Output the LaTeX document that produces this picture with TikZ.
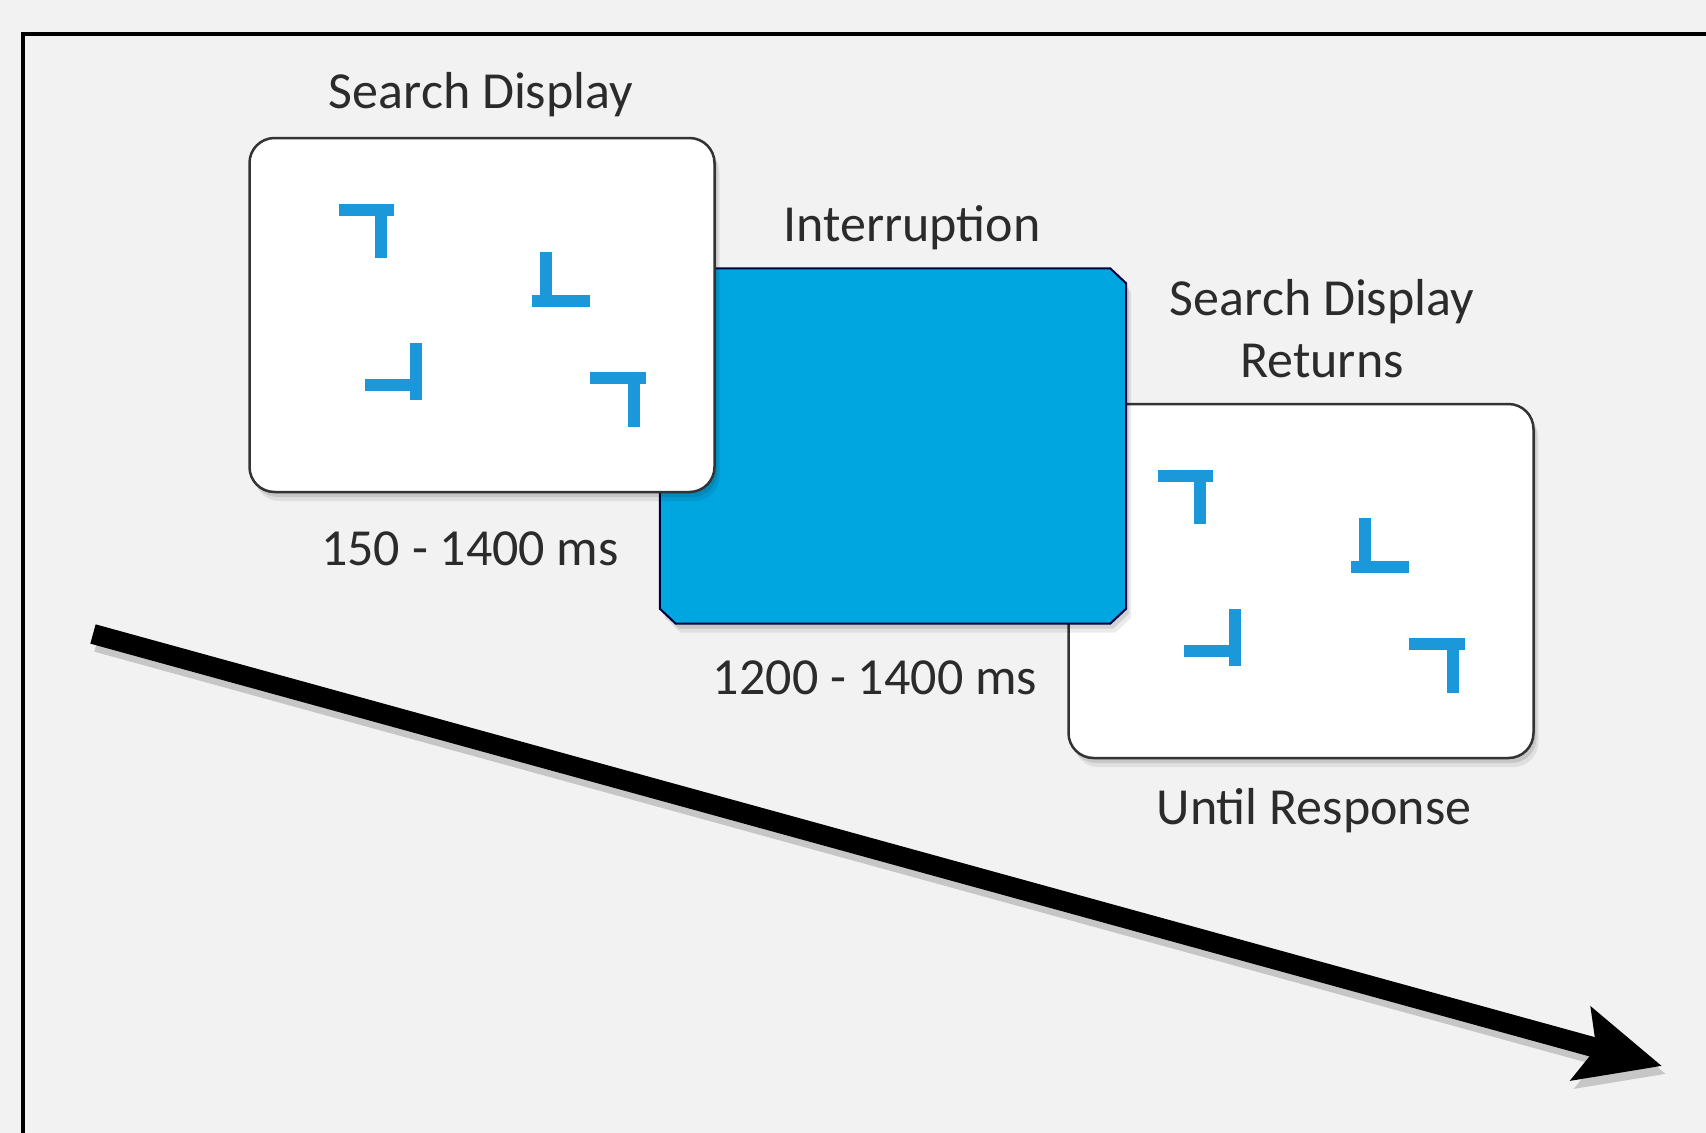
\documentclass[tikz,border=0pt]{standalone}
\usepackage{fontspec}
\setmainfont{Carlito}
\usetikzlibrary{arrows.meta,shadows}

\definecolor{panelgray}{HTML}{F2F2F2}
\definecolor{screenblue}{HTML}{00A6E0}
\definecolor{stimblue}{HTML}{1A98DA}
\definecolor{labelgray}{HTML}{2B2B2B}

\tikzset{
  softshadow/.style={
    general shadow={fill=black, opacity=0.10, shadow xshift=0.3mm, shadow yshift=-0.5mm},
    general shadow={fill=black, opacity=0.08, shadow xshift=0.5mm, shadow yshift=-0.9mm}},
  screen/.style={rectangle, minimum width=46.5mm, minimum height=35.4mm, inner sep=0pt},
  display/.style={screen, draw=black!80, line width=0.25mm, fill=white,
    rounded corners=2.5mm, softshadow},
  blank/.style={draw=black!75!blue, line width=0.2mm, fill=screenblue, softshadow},
  lbl/.style={anchor=base, text=labelgray, inner sep=0pt, align=center,
    font=\fontsize{14.8}{17.6}\selectfont},
  stim/.style={draw=stimblue, line width=1.2mm},
  timeline/.style={line width=2mm, -{Stealth[length=8.3mm, width=7.4mm, inset=1.5mm]}}
}

\begin{document}
\begin{tikzpicture}[x=0.1mm, y=-0.1mm]
    \useasboundingbox[fill=panelgray] (0,0) rectangle (1706,1133);

    % outer frame (runs off the right and bottom edge)
    \draw[line width=0.4mm] (23,1140) -- (23,34) -- (1720,34);

    % screens, back to front
    \node[display] (disp2) at (1301,581) {};
    \node[screen] (mask) at (893,446) {};
    \filldraw[blank] ([xshift=1.6mm]mask.north west) -- ([xshift=-1.6mm]mask.north east)
        -- ([yshift=-1.5mm]mask.north east) -- ([yshift=1.5mm]mask.south east)
        -- ([xshift=-1.6mm]mask.south east) -- ([xshift=1.6mm]mask.south west)
        -- ([yshift=1.5mm]mask.south west) -- ([yshift=-1.5mm]mask.north west) -- cycle;
    \node[display] (disp1) at (482,315) {};

    % T / L items, same layout on both search screens
    \foreach \scr in {disp1,disp2} {
        \begin{scope}[shift={(\scr.center)}]
            \draw[stim] (-143,-105) -- (-88,-105);
            \draw[stim] (-101,-111) -- (-101,-57);
            \draw[stim] (64,-63) -- (64,-8);
            \draw[stim] (50,-14) -- (108,-14);
            \draw[stim] (-66,28) -- (-66,85);
            \draw[stim] (-117,70) -- (-60,70);
            \draw[stim] (108,63) -- (164,63);
            \draw[stim] (152,57) -- (152,112);
        \end{scope}
    }

    \node[lbl] (lsearch) at (481,108) {Search Display};
    \node[lbl] (lmask) at (912,241) {Interruption};
    \node[lbl] (lreturn) at (1322,377) {Search Display\\Returns};
    \node[lbl] (tsearch) at (470,565) {150 - 1400 ms};
    \node[lbl] (tmask) at (875,694) {1200 - 1400 ms};
    \node[lbl] (treturn) at (1314,824) {Until Response};

    % time axis
    \coordinate (tstart) at (93,634);
    \coordinate (tend) at (1662,1066);
    \draw[timeline, black, opacity=0.18, transform canvas={xshift=0.4mm, yshift=-0.8mm}] (tstart) -- (tend);
    \draw[timeline] (tstart) -- (tend);
\end{tikzpicture}
\end{document}
